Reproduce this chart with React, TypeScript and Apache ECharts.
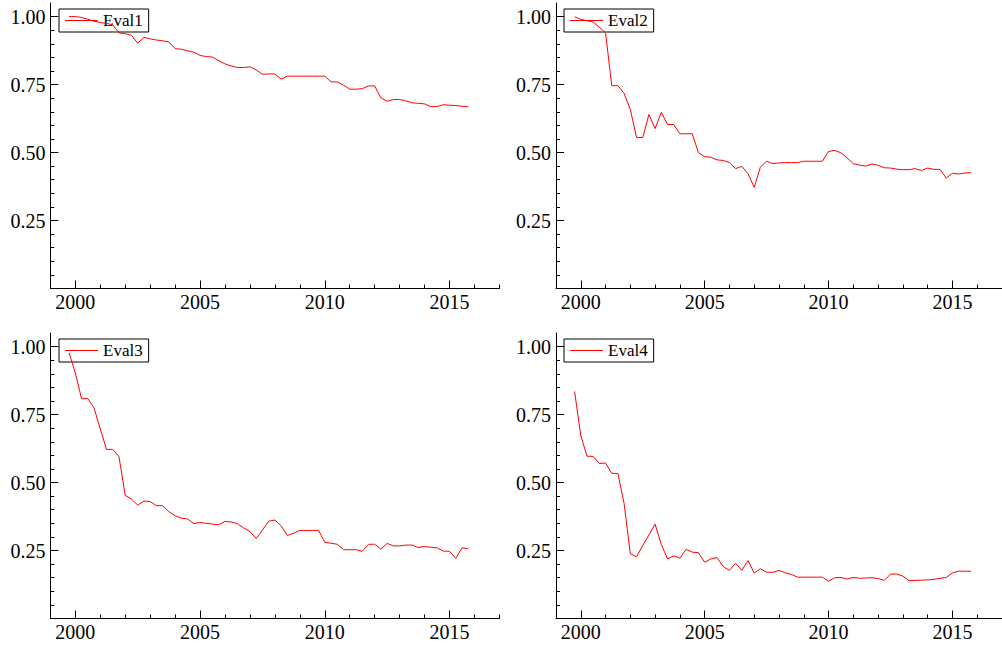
import React, { useEffect, useRef } from "react";
import * as echarts from "echarts";

// Quarterly evaluation scores, Q4 1999 .. Q4 2015
const START_YEAR = 1999.75;

const eval1 = [
  1.0, 1.0, 0.997, 0.99, 0.983, 0.978, 0.975, 0.97, 0.94, 0.937,
  0.931, 0.902, 0.924, 0.918, 0.914, 0.911, 0.907, 0.882, 0.88, 0.874,
  0.869, 0.857, 0.853, 0.851, 0.838, 0.826, 0.818, 0.813, 0.813, 0.815,
  0.804, 0.788, 0.789, 0.789, 0.77, 0.781, 0.781, 0.781, 0.781, 0.781,
  0.781, 0.781, 0.76, 0.76, 0.748, 0.733, 0.733, 0.735, 0.745, 0.745,
  0.701, 0.689, 0.695, 0.695, 0.69, 0.683, 0.681, 0.679, 0.669, 0.669,
  0.676, 0.674, 0.673, 0.67, 0.668,
];

const eval2 = [
  0.999, 0.99, 0.985, 0.98, 0.961, 0.94, 0.746, 0.746, 0.717, 0.658,
  0.555, 0.555, 0.64, 0.588, 0.648, 0.603, 0.603, 0.569, 0.569, 0.569,
  0.499, 0.485, 0.483, 0.473, 0.471, 0.463, 0.441, 0.449, 0.422, 0.372,
  0.447, 0.468, 0.459, 0.462, 0.463, 0.463, 0.463, 0.468, 0.468, 0.468,
  0.468, 0.504, 0.508, 0.499, 0.48, 0.459, 0.454, 0.45, 0.458, 0.453,
  0.444, 0.443, 0.439, 0.437, 0.437, 0.441, 0.434, 0.443, 0.438, 0.438,
  0.406, 0.424, 0.421, 0.425, 0.426,
];

const eval3 = [
  0.977, 0.903, 0.808, 0.809, 0.774, 0.697, 0.622, 0.622, 0.595, 0.453,
  0.439, 0.417, 0.432, 0.43, 0.415, 0.415, 0.393, 0.378, 0.369, 0.366,
  0.349, 0.353, 0.35, 0.347, 0.345, 0.357, 0.355, 0.349, 0.333, 0.32,
  0.294, 0.325, 0.358, 0.362, 0.341, 0.305, 0.314, 0.324, 0.324, 0.324,
  0.324, 0.28, 0.277, 0.273, 0.253, 0.253, 0.253, 0.247, 0.273, 0.273,
  0.255, 0.276, 0.267, 0.267, 0.27, 0.27, 0.261, 0.265, 0.262, 0.26,
  0.248, 0.247, 0.221, 0.26, 0.257,
];

const eval4 = [
  0.835, 0.673, 0.597, 0.596, 0.57, 0.572, 0.534, 0.533, 0.422, 0.238,
  0.227, 0.268, 0.307, 0.347, 0.272, 0.219, 0.23, 0.222, 0.254, 0.244,
  0.242, 0.207, 0.219, 0.224, 0.191, 0.177, 0.203, 0.177, 0.213, 0.167,
  0.183, 0.17, 0.17, 0.177, 0.168, 0.162, 0.152, 0.152, 0.152, 0.152,
  0.152, 0.137, 0.15, 0.151, 0.145, 0.151, 0.148, 0.149, 0.15, 0.147,
  0.14, 0.163, 0.164, 0.156, 0.139, 0.14, 0.141, 0.142, 0.144, 0.148,
  0.151, 0.168, 0.174, 0.174, 0.174,
];

const seriesNames = ["Eval1", "Eval2", "Eval3", "Eval4"];
const seriesValues = [eval1, eval2, eval3, eval4];

// Axis ticks and labels
const yearLabels = [2000, 2005, 2010, 2015];
const yLabels = [0.25, 0.5, 0.75, 1.0];
const yMinorTicks = [
  0.05, 0.1, 0.15, 0.2, 0.25, 0.3, 0.35, 0.4, 0.45, 0.5,
  0.55, 0.6, 0.65, 0.7, 0.75, 0.8, 0.85, 0.9, 0.95, 1.0,
];

const FONT = '"Liberation Serif", "Times New Roman", serif';
const AXIS_COLOR = "#000";
const LINE_COLOR = "#ff0000";

// Panel placement (2 x 2 grid of plots)
const panels = [
  { left: 50.4, top: 3, legendLeft: 59, legendTop: 9 },
  { left: 556, top: 3, legendLeft: 564, legendTop: 9 },
  { left: 50.4, top: 333, legendLeft: 59, legendTop: 339 },
  { left: 556, top: 333, legendLeft: 564, legendTop: 339 },
];
const PLOT_W = 449;
const PLOT_H = 285.5;

function quarterPoints(values: number[]) {
  return values.map((v, i) => [START_YEAR + i * 0.25, v]);
}

function buildOption() {
  const grid: any[] = [];
  const xAxis: any[] = [];
  const yAxis: any[] = [];
  const legend: any[] = [];
  const series: any[] = [];

  panels.forEach((p, g) => {
    grid.push({ left: p.left, top: p.top, width: PLOT_W, height: PLOT_H, containLabel: false });

    // major x axis: line, long ticks, year labels
    xAxis.push({
      type: "value",
      gridIndex: g,
      position: "bottom",
      min: 1999,
      max: 2017,
      axisLine: { show: true, onZero: false, lineStyle: { color: AXIS_COLOR, width: 1 } },
      axisTick: { show: true, inside: true, length: 8, customValues: yearLabels, lineStyle: { color: AXIS_COLOR } },
      axisLabel: {
        show: true,
        customValues: yearLabels,
        formatter: (v: number) => String(v),
        fontFamily: FONT,
        fontSize: 20,
        color: "#000",
        margin: 3,
      },
      splitLine: { show: false },
    });
    // minor x axis: one short tick per year
    xAxis.push({
      type: "value",
      gridIndex: g,
      position: "bottom",
      min: 1999,
      max: 2017,
      interval: 1,
      axisLine: { show: false, onZero: false },
      axisTick: { show: true, inside: true, length: 4, lineStyle: { color: AXIS_COLOR } },
      axisLabel: { show: false },
      splitLine: { show: false },
    });

    // major y axis
    yAxis.push({
      type: "value",
      gridIndex: g,
      position: "left",
      min: 0,
      max: 1.05,
      axisLine: { show: true, onZero: false, lineStyle: { color: AXIS_COLOR, width: 1 } },
      axisTick: { show: true, inside: true, length: 8, customValues: yLabels, lineStyle: { color: AXIS_COLOR } },
      axisLabel: {
        show: true,
        customValues: yLabels,
        formatter: (v: number) => v.toFixed(2),
        fontFamily: FONT,
        fontSize: 20,
        color: "#000",
        margin: 5,
      },
      splitLine: { show: false },
    });
    // minor y axis
    yAxis.push({
      type: "value",
      gridIndex: g,
      position: "left",
      min: 0,
      max: 1.05,
      axisLine: { show: false, onZero: false },
      axisTick: { show: true, inside: true, length: 4, customValues: yMinorTicks, lineStyle: { color: AXIS_COLOR } },
      axisLabel: { show: false },
      splitLine: { show: false },
    });

    legend.push({
      data: [seriesNames[g]],
      left: p.legendLeft,
      top: p.legendTop,
      orient: "horizontal",
      icon: "rect",
      itemWidth: 33,
      itemHeight: 1,
      itemGap: 0,
      padding: [3, 6, 3, 6],
      borderColor: "#000",
      borderWidth: 1,
      borderRadius: 0,
      backgroundColor: "transparent",
      selectedMode: false,
      textStyle: { fontFamily: FONT, fontSize: 17, color: "#000" },
    });

    series.push({
      name: seriesNames[g],
      type: "line",
      xAxisIndex: g * 2,
      yAxisIndex: g * 2,
      data: quarterPoints(seriesValues[g]),
      showSymbol: false,
      symbol: "none",
      color: LINE_COLOR,
      lineStyle: { color: LINE_COLOR, width: 1 },
      z: 5,
    });
  });

  return {
    animation: false,
    backgroundColor: "#fff",
    grid,
    xAxis,
    yAxis,
    legend,
    series,
  };
}

export default function App() {
  const ref = useRef<HTMLDivElement>(null);

  useEffect(() => {
    if (!ref.current) return;
    const chart = echarts.init(ref.current, undefined, { renderer: "svg" });
    chart.setOption(buildOption() as any);
    return () => chart.dispose();
  }, []);

  return (
    <div
      ref={ref}
      style={{ position: "fixed", left: 0, top: 0, width: 1002, height: 648, background: "#fff" }}
    />
  );
}
